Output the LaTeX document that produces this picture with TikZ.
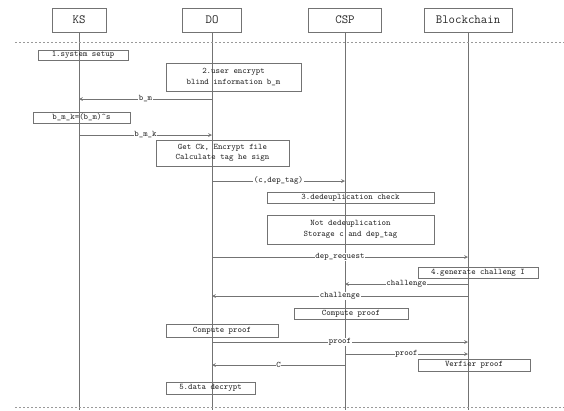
\documentclass[tikz,border=0pt]{standalone}
\begin{document}
\begin{tikzpicture}[x=1pt,y=-1pt,
  font=\ttfamily\fontsize{8.5}{10.5}\selectfont,text=black!85,
  head/.style={draw=black!55,line width=0.7pt,minimum height=24pt,inner sep=0pt,font=\ttfamily\fontsize{12.5}{14}\selectfont},
  actbox/.style={draw=black!55,line width=0.7pt,align=center,inner sep=0pt},
  life/.style={draw=black!55,line width=0.8pt},
  msg/.style={->,>=stealth,draw=black!55,line width=0.7pt},
  lbl/.style={fill=white,inner sep=0.5pt},
  sep/.style={draw=black!40,dash pattern=on 2pt off 2pt,line width=0.8pt}]
  \useasboundingbox (0,0) rectangle (564,410);
  % participants and lifelines
  \node[head,minimum width=54pt] (ks) at (79,20) {KS};
  \node[head,minimum width=59pt] (do) at (212,20) {DO};
  \node[head,minimum width=73pt] (csp) at (345,20) {CSP};
  \node[head,minimum width=88pt] (bc) at (468,20) {Blockchain};
  \coordinate (ksend) at (79,410);
  \coordinate (doend) at (212,410);
  \coordinate (cspend) at (345,410);
  \coordinate (bcend) at (468,410);
  \draw[life] (ks) -- (ksend);
  \draw[life] (do) -- (doend);
  \draw[life] (csp) -- (cspend);
  \draw[life] (bc) -- (bcend);
  \draw[sep] (15,42) -- (564,42);
  \draw[sep] (15,407) -- (564,407);
  % steps
  \node[actbox,minimum width=90pt,minimum height=10pt] (setup) at (83,55) {1.system setup};
  \node[actbox,minimum width=135pt,minimum height=28pt] (blind) at (233.5,77) {2.user encrypt\\blind information b\_m};
  \node[actbox,minimum width=97pt,minimum height=11pt] (sign) at (81.5,117.5) {b\_m\_k=(b\_m)\textasciicircum s};
  \node[actbox,minimum width=133pt,minimum height=26pt] (enc) at (222.5,153) {Get Ck, Encrypt file\\Calculate tag he sign};
  \node[actbox,minimum width=167pt,minimum height=11pt] (check) at (350.5,197.5) {3.dedeuplication check};
  \node[actbox,minimum width=167pt,minimum height=29pt] (store) at (350.5,229.5) {Not dedeuplication\\Storage c and dep\_tag};
  \node[actbox,minimum width=120pt,minimum height=11pt] (chal) at (478,272.5) {4.generate challeng I};
  \node[actbox,minimum width=114pt,minimum height=11pt] (cpcsp) at (351,313.5) {Compute proof};
  \node[actbox,minimum width=112pt,minimum height=13pt] (cpdo) at (222,330.5) {Compute proof};
  \node[actbox,minimum width=112pt,minimum height=12pt] (verify) at (474,365) {Verfier proof};
  \node[actbox,minimum width=89pt,minimum height=12pt] (dec) at (210.5,388) {5.data decrypt};
  % messages
  \draw[msg] (do |- 0,99) -- node[lbl] {b\_m} (ks |- 0,99);
  \draw[msg] (ks |- 0,135) -- node[lbl] {b\_m\_k} (do |- 0,135);
  \draw[msg] (do |- 0,181) -- node[lbl] {(c,dep\_tag)} (csp |- 0,181);
  \draw[msg] (do |- 0,257) -- node[lbl] {dep\_request} (bc |- 0,257);
  \draw[msg] (bc |- 0,284) -- node[lbl] {challenge} (csp |- 0,284);
  \draw[msg] (bc |- 0,296) -- node[lbl] {challenge} (do |- 0,296);
  \draw[msg] (do |- 0,342) -- node[lbl] {proof} (bc |- 0,342);
  \draw[msg] (csp |- 0,354) -- node[lbl] {proof} (bc |- 0,354);
  \draw[msg] (csp |- 0,365) -- node[lbl] {C} (do |- 0,365);
\end{tikzpicture}
\end{document}
